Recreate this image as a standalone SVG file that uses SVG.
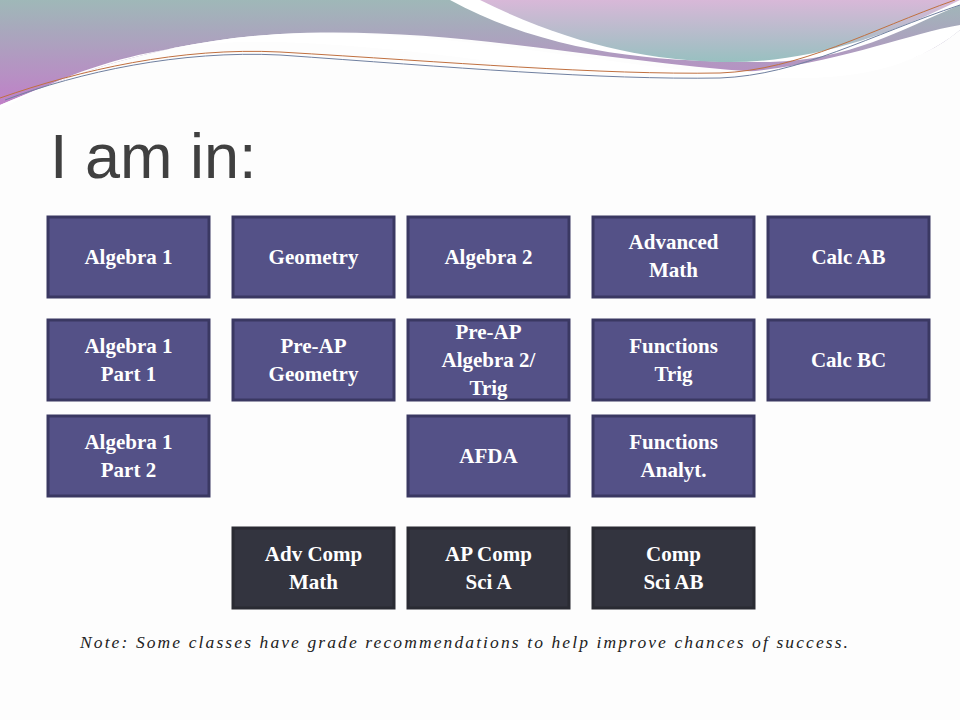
<svg xmlns="http://www.w3.org/2000/svg" width="960" height="720" viewBox="0 0 960 720">
<defs>
<linearGradient id="g1" x1="0" y1="0" x2="0" y2="1"><stop offset="0" stop-color="#9fb8b8"/><stop offset="1" stop-color="#c080c8"/></linearGradient>
<linearGradient id="g2" x1="0" y1="0" x2="0" y2="1"><stop offset="0" stop-color="#d8b8d8"/><stop offset="1" stop-color="#98c0c0"/></linearGradient>
<style>
.b{fill:#545187;stroke:#3a3862;stroke-width:3}
.d{fill:#33343f;stroke:#2a2b33;stroke-width:3}
.t{font-family:"Liberation Serif",serif;font-size:21px;font-weight:bold;fill:#ffffff;text-anchor:middle}
</style>
</defs>
<rect width="960" height="720" fill="#fdfdfd"/>
<g id="waves">
<path d="M0 0 H960 V30 C900 80 820 75 760 72 C600 62 450 25 280 34 C150 42 60 80 0 105 Z" fill="url(#g1)"/>
<path d="M450 0 C560 60 680 62 770 62 C850 60 900 30 960 5 V0 Z" fill="#ffffff"/>
<path d="M480 0 C570 45 650 60 720 62 C800 64 880 40 960 0 Z" fill="url(#g2)"/>
<path d="M0 110 C60 75 150 38 280 42 C450 48 550 78 700 75 C820 72 900 35 960 25 V30 C900 80 820 80 760 77 C600 66 450 28 280 34 C150 42 60 80 0 105 Z" fill="#ffffff"/>
<path d="M0 98 C80 70 180 47 280 52 C450 62 600 75 720 73 C800 70 870 30 955 0" fill="none" stroke="#c07040" stroke-width="1"/>
<path d="M5 100 C80 72 180 50 280 55 C450 67 600 80 720 78 C800 75 870 35 960 5" fill="none" stroke="#7080a0" stroke-width="1"/>
</g>
<text x="50" y="178" font-family="Liberation Sans,sans-serif" font-size="63" fill="#404040">I am in:</text>
<g id="n1"><rect class="b" x="48" y="217" width="161" height="80"/><text class="t" x="128.5" y="264">Algebra 1</text></g>
<g id="n2"><rect class="b" x="233" y="217" width="161" height="80"/><text class="t" x="313.5" y="264">Geometry</text></g>
<g id="n3"><rect class="b" x="408" y="217" width="161" height="80"/><text class="t" x="488.5" y="264">Algebra 2</text></g>
<g id="n4"><rect class="b" x="593" y="217" width="161" height="80"/><text class="t" x="673.5" y="249">Advanced</text><text class="t" x="673.5" y="277">Math</text></g>
<g id="n5"><rect class="b" x="768" y="217" width="161" height="80"/><text class="t" x="848.5" y="264">Calc AB</text></g>
<g id="n6"><rect class="b" x="48" y="320" width="161" height="80"/><text class="t" x="128.5" y="353">Algebra 1</text><text class="t" x="128.5" y="381">Part 1</text></g>
<g id="n7"><rect class="b" x="233" y="320" width="161" height="80"/><text class="t" x="313.5" y="353">Pre-AP</text><text class="t" x="313.5" y="381">Geometry</text></g>
<g id="n8"><rect class="b" x="408" y="320" width="161" height="80"/><text class="t" x="488.5" y="339">Pre-AP</text><text class="t" x="488.5" y="367">Algebra 2/</text><text class="t" x="488.5" y="395">Trig</text></g>
<g id="n9"><rect class="b" x="593" y="320" width="161" height="80"/><text class="t" x="673.5" y="353">Functions</text><text class="t" x="673.5" y="381">Trig</text></g>
<g id="n10"><rect class="b" x="768" y="320" width="161" height="80"/><text class="t" x="848.5" y="367">Calc BC</text></g>
<g id="n11"><rect class="b" x="48" y="416" width="161" height="80"/><text class="t" x="128.5" y="449">Algebra 1</text><text class="t" x="128.5" y="477">Part 2</text></g>
<g id="n12"><rect class="b" x="408" y="416" width="161" height="80"/><text class="t" x="488.5" y="463">AFDA</text></g>
<g id="n13"><rect class="b" x="593" y="416" width="161" height="80"/><text class="t" x="673.5" y="449">Functions</text><text class="t" x="673.5" y="477">Analyt.</text></g>
<g id="n14"><rect class="d" x="233" y="528" width="161" height="80"/><text class="t" x="313.5" y="561">Adv Comp</text><text class="t" x="313.5" y="589">Math</text></g>
<g id="n15"><rect class="d" x="408" y="528" width="161" height="80"/><text class="t" x="488.5" y="561">AP Comp</text><text class="t" x="488.5" y="589">Sci A</text></g>
<g id="n16"><rect class="d" x="593" y="528" width="161" height="80"/><text class="t" x="673.5" y="561">Comp</text><text class="t" x="673.5" y="589">Sci AB</text></g>
<g id="connectors"/>
<text x="80" y="648" font-family="Liberation Serif,serif" font-style="italic" font-size="17.5" fill="#222" textLength="768" lengthAdjust="spacing">Note:  Some classes have grade recommendations to help improve chances of success.</text>
</svg>
